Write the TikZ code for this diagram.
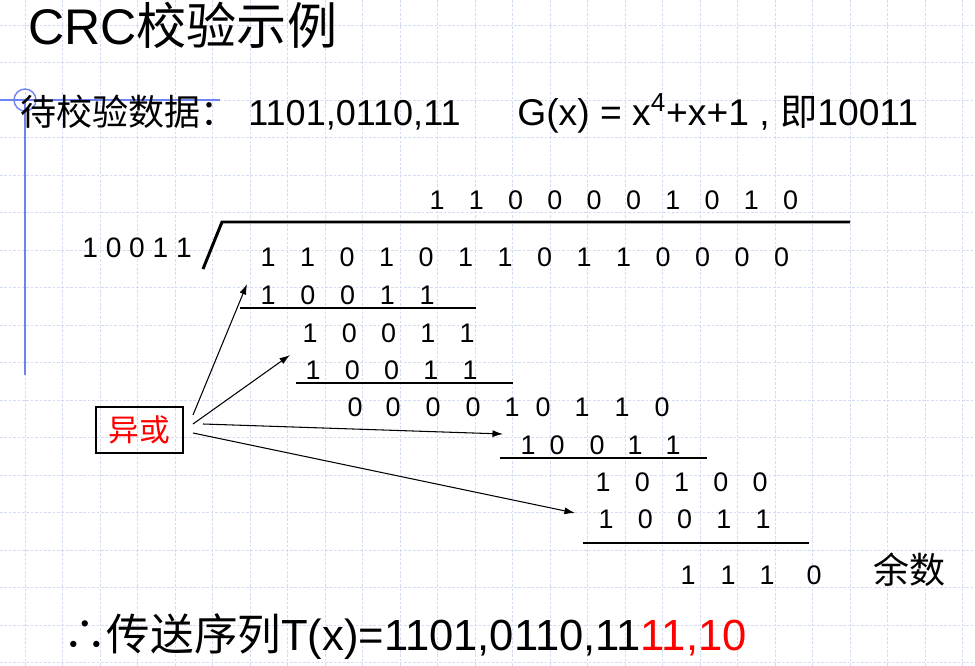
\documentclass[tikz,border=0pt]{standalone}
\usepackage{fontspec}
\setmainfont{Liberation Sans}
\newfontfamily\cjk{Noto Sans CJK SC}
\usetikzlibrary{arrows.meta}

\definecolor{gridblue}{RGB}{212,220,243}
\definecolor{markblue}{RGB}{110,130,240}

\tikzset{
  gridline/.style={draw=gridblue, line width=0.5pt, dash pattern=on 1.5pt off 1pt},
  bit/.style={inner sep=0pt, font=\fontsize{15.3}{16}\selectfont},
  txt/.style={inner sep=0pt, anchor=base west},
  bar/.style={line width=1.7pt},
  xorarrow/.style={-{Latex[length=6pt,width=4pt]}, line width=0.6pt},
}

\begin{document}
\begin{tikzpicture}[x=0.02cm, y=-0.02cm]
  % page and grid
  \useasboundingbox (0,0) rectangle (975,666);
  \fill[white] (0,0) rectangle (975,666);
  \foreach \gx in {25,62.5,...,975} \draw[gridline] (\gx,0) -- (\gx,666);
  \foreach \gy in {25,62.5,...,666} \draw[gridline] (0,\gy) -- (975,\gy);

  % blue margin marks
  \draw[markblue, line width=1.2pt] (0,100) -- (220,100);
  \draw[markblue, line width=1.2pt] (25,100) -- (25,375);
  \draw[markblue, line width=0.8pt] (25,100) circle[radius=11];

  % headings
  \node[txt, font=\fontsize{28.5}{30}\selectfont] (title) at (28,45) {CRC{\cjk 校验示例}};
  \node[txt, font=\fontsize{20.5}{22}\selectfont\cjk] (datalbl) at (20,125) {待校验数据：};
  \node[txt, font=\fontsize{20.5}{22}\selectfont] (data) at (248,125) {1101,0110,11};
  \node[txt, font=\fontsize{21.2}{22}\selectfont] (poly) at (517,125) {G(x) = x\textsuperscript{4}+x+1 , {\cjk 即}10011};

  % divisor and division bar
  \node[txt, font=\fontsize{16}{17}\selectfont] (divisor) at (82,257) {1 0 0 1 1};
  \coordinate (barfoot) at (203,269);
  \coordinate (barleft) at (222,222);
  \coordinate (barright) at (850,222);
  \draw[bar] (barfoot) -- (barleft) -- (barright);

  % quotient and dividend
  \foreach \d [count=\i from 0] in {1,1,0,0,0,0,1,0,1,0}
    \node[bit] (q\i) at (437+39.3*\i,200) {\d};
  \foreach \d [count=\i from 0] in {1,1,0,1,0,1,1,0,1,1,0,0,0,0}
    \node[bit] (dv\i) at (268+39.5*\i,257) {\d};

  % long division steps
  \foreach \d [count=\i from 0] in {1,0,0,1,1}
    \node[bit] (ra\i) at (268+39.75*\i,295) {\d};
  \draw[bar] (240,308) -- (476,308);
  \foreach \d [count=\i from 0] in {1,0,0,1,1}
    \node[bit] (rb\i) at (310+39.25*\i,333) {\d};
  \foreach \d [count=\i from 0] in {1,0,0,1,1}
    \node[bit] (rc\i) at (313+39.25*\i,370) {\d};
  \draw[bar] (296,383) -- (513,383);
  \foreach \d/\px [count=\i from 0] in {0/355,0/393,0/433,0/473,1/512,0/543,1/582,1/622,0/662}
    \node[bit] (rd\i) at (\px,407) {\d};
  \foreach \d/\px [count=\i from 0] in {1/528,0/557,0/597,1/635,1/673}
    \node[bit] (re\i) at (\px,445) {\d};
  \draw[bar] (500,458) -- (707,458);
  \foreach \d [count=\i from 0] in {1,0,1,0,0}
    \node[bit] (rf\i) at (603+39.25*\i,482) {\d};
  \foreach \d [count=\i from 0] in {1,0,0,1,1}
    \node[bit] (rg\i) at (606+39.25*\i,519) {\d};
  \draw[bar] (583,543) -- (809,543);

  % remainder
  \foreach \d/\px [count=\i from 0] in {1/688,1/728,1/767,0/814}
    \node[bit] (rem\i) at (\px,575) {\d};
  \node[txt, font=\fontsize{20.5}{22}\selectfont\cjk] (remlbl) at (873,583) {余数};

  % xor label and its arrows
  \node[draw, line width=0.8pt, text=red, minimum width=1.74cm, minimum height=0.92cm,
        inner sep=0pt, font=\fontsize{17.5}{18}\selectfont\cjk] (xor) at (139.5,430) {异或};
  \coordinate (xs1) at (193,415);
  \coordinate (xs2) at (193,424);
  \coordinate (xs3) at (203,424);
  \coordinate (xs4) at (193,433);
  \coordinate (xe1) at (247,284);
  \coordinate (xe2) at (290,355);
  \coordinate (xe3) at (503,434);
  \coordinate (xe4) at (575,513);
  \draw[xorarrow] (xs1) -- (xe1);
  \draw[xorarrow] (xs2) -- (xe2);
  \draw[xorarrow] (xs3) -- (xe3);
  \draw[xorarrow] (xs4) -- (xe4);

  % result
  \node[txt, font=\fontsize{24.8}{26}\selectfont] (result) at (63,650)
    {{\cjk ∴传送序列}T(x)=1101,0110,11\textcolor{red}{11,10}};
\end{tikzpicture}
\end{document}
